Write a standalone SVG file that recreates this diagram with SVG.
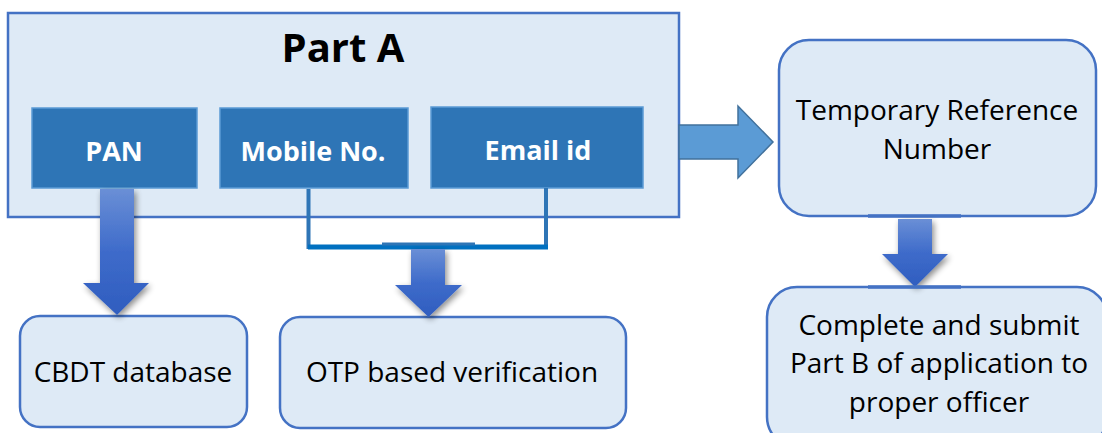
<svg xmlns="http://www.w3.org/2000/svg" width="1102" height="433" viewBox="0 0 1102 433">
<defs>
<linearGradient id="dg" x1="0" y1="0" x2="0" y2="1">
<stop offset="0" stop-color="#6A8FD6"/>
<stop offset="0.5" stop-color="#3E6BCA"/>
<stop offset="1" stop-color="#2F5DBF"/>
</linearGradient>
<filter id="sh" x="-30%" y="-20%" width="160%" height="150%">
<feGaussianBlur in="SourceAlpha" stdDeviation="3"/>
<feOffset dx="2" dy="3" result="b"/>
<feComponentTransfer><feFuncA type="linear" slope="0.45"/></feComponentTransfer>
<feMerge><feMergeNode/><feMergeNode in="SourceGraphic"/></feMerge>
</filter>
</defs>
<style>
.t{font-family:"Open Sans","Noto Sans",sans-serif;fill:#000;text-anchor:middle}
.reg{font-size:28px}
.w{font-family:"Open Sans","Noto Sans",sans-serif;font-weight:bold;fill:#fff;text-anchor:middle;font-size:27px}
.rb{fill:#DEEAF6;stroke:#4472C4;stroke-width:2.5}
.sb{fill:#2E75B6;stroke:#5B9BD5;stroke-width:1.5}
.da{fill:url(#dg);filter:url(#sh)}
</style>
<g id="partA">
<rect x="8" y="13" width="671" height="204" fill="#DEEAF6" stroke="#4472C4" stroke-width="2.5"/>
<text class="t" x="343" y="62" font-size="40" font-weight="bold">Part A</text>
</g>
<g id="pan">
<rect class="sb" x="32" y="108" width="165" height="80"/>
<text class="w" x="114" y="161">PAN</text>
</g>
<g id="mobile">
<rect class="sb" x="220" y="108" width="188" height="80"/>
<text class="w" x="313" y="161">Mobile No.</text>
</g>
<g id="email">
<rect class="sb" x="431" y="107" width="212" height="81"/>
<text class="w" x="538" y="160">Email id</text>
</g>
<g id="trn">
<rect class="rb" x="779" y="40" width="317" height="176" rx="30"/>
<text class="t reg" x="937" y="120">Temporary Reference</text>
<text class="t reg" x="937" y="159">Number</text>
</g>
<g id="partB">
<rect class="rb" x="767" y="287" width="340" height="160" rx="30"/>
<text class="t reg" x="939" y="335">Complete and submit</text>
<text class="t reg" x="939" y="373">Part B of application to</text>
<text class="t reg" x="939" y="412">proper officer</text>
</g>
<g id="cbdt">
<rect class="rb" x="20" y="316" width="227" height="111" rx="20"/>
<text class="t reg" x="133" y="382">CBDT database</text>
</g>
<g id="otp">
<rect class="rb" x="280" y="317" width="346" height="111" rx="20"/>
<text class="t reg" x="452" y="382">OTP based verification</text>
</g>
<g id="connectors">
<polygon points="679,125 738,125 738,106 773,142 738,178 738,159 679,159" fill="#5B9BD5" stroke="#41719C" stroke-width="1.5"/>
<polygon class="da" points="100,189 134,189 134,283 149,283 117,315 83,283 100,283"/>
<polyline points="308.5,189 308.5,247 546,247 546,188" fill="none" stroke="#2E75B6" stroke-width="4"/>
<line x1="308" y1="247" x2="548" y2="247" stroke="#0070C0" stroke-width="5"/>
<line x1="382" y1="244" x2="475" y2="244" stroke="#2E75B6" stroke-width="3"/>
<polygon class="da" points="411,249 445,249 445,285 462,285 428.5,317 395,285 411,285"/>
<line x1="868" y1="216" x2="961" y2="216" stroke="#4472C4" stroke-width="3.5"/>
<polygon class="da" points="898,219 932,219 932,254 948,254 915,287 882,254 898,254"/>
<line x1="868" y1="287" x2="961" y2="287" stroke="#4472C4" stroke-width="3.5"/>
</g>
</svg>
